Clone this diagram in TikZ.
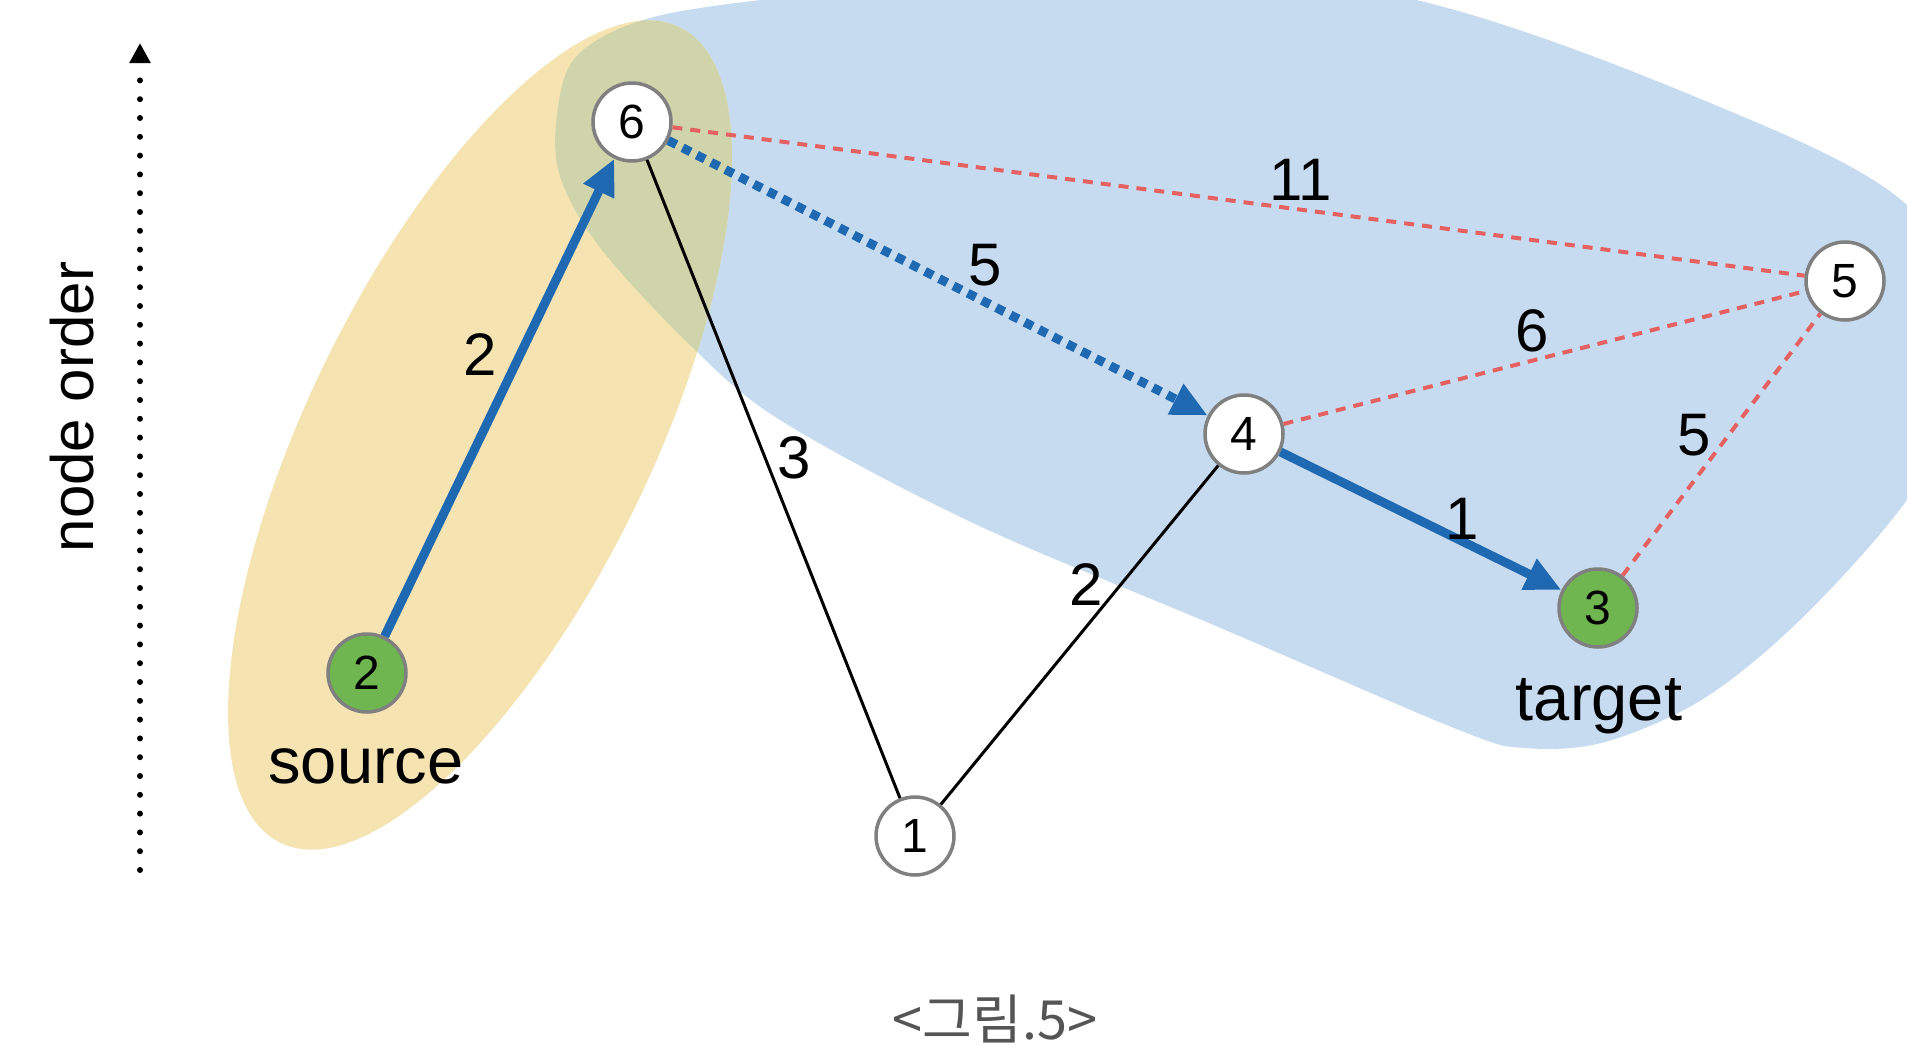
\documentclass[tikz,border=0pt]{standalone}
\usepackage{fontspec}
\setmainfont{Liberation Sans}
\newfontfamily\krfont{Noto Sans CJK KR}
\usetikzlibrary{arrows.meta}
\definecolor{bluefill}{RGB}{199,219,240}
\definecolor{yellowfill}{RGB}{245,228,178}
\definecolor{olivefill}{RGB}{208,212,170}
\definecolor{edgeblue}{RGB}{31,104,178}
\definecolor{edgered}{RGB}{229,96,96}
\definecolor{nodegray}{RGB}{128,128,128}
\definecolor{nodegreen}{RGB}{112,182,80}
\definecolor{captiongray}{RGB}{85,85,85}
\begin{document}
\begin{tikzpicture}[x=1pt,y=-1pt,
  vnode/.style={circle, draw=nodegray, line width=3.5pt, fill=white, minimum size=78pt, inner sep=0pt, font=\fontsize{48}{48}\selectfont},
  gnode/.style={vnode, fill=nodegreen},
  wlabel/.style={font=\fontsize{60}{60}\selectfont, inner sep=0pt},
  tlabel/.style={font=\fontsize{65}{65}\selectfont, inner sep=0pt},
  bluearrow/.style={draw=edgeblue, line width=9pt, -{Triangle[length=36pt,width=32pt]}},
  bluedots/.style={draw=edgeblue, line width=9pt, dash pattern=on 9pt off 7pt, -{Triangle[length=36pt,width=32pt]}},
  blackedge/.style={draw=black, line width=3pt},
  reddash/.style={draw=edgered, line width=4pt, dash pattern=on 10pt off 8pt},
]
\useasboundingbox (0,0) rectangle (1907,1050);
\fill[white] (0,0) rectangle (1907,1050);

\begin{scope}
\clip (0,0) rectangle (1907,1050);
% blue region
\fill[bluefill] plot[smooth cycle, tension=0.55] coordinates {
  (556,125) (575,58) (650,18) (800,-5) (1100,-40) (1416,0) (1703,100) (1907,205)
  (1990,360) (1907,500) (1800,620) (1703,699) (1605,742) (1526,748) (1459,730)
  (1216,626) (973,523) (780,420) (690,345) (602,250) (562,182)};
% yellow region
\fill[yellowfill, rotate around={63.9:(480,435)}] (480,435) ellipse [x radius=454, y radius=171];
% overlap
\begin{scope}
\clip[rotate around={63.9:(480,435)}] (480,435) ellipse [x radius=454, y radius=171];
\fill[olivefill] plot[smooth cycle, tension=0.55] coordinates {
  (556,125) (575,58) (650,18) (800,-5) (1100,-40) (1416,0) (1703,100) (1907,205)
  (1990,360) (1907,500) (1800,620) (1703,699) (1605,742) (1526,748) (1459,730)
  (1216,626) (973,523) (780,420) (690,345) (602,250) (562,182)};
\end{scope}
\end{scope}

% axis
\coordinate (ax0) at (140,870);
\coordinate (ax1) at (140,43);
\draw[line width=6pt, line cap=round, dash pattern=on 0pt off 18.8pt, -{Triangle[length=20pt,width=20pt]}] (ax0) -- (ax1);
\node[font=\fontsize{60}{60}\selectfont, inner sep=0pt, rotate=90] (ord) at (72,407) {node order};

% nodes
\node[vnode] (n6) at (632,122) {6};
\node[vnode] (n5) at (1845,281) {5};
\node[vnode] (n4) at (1244,434) {4};
\node[gnode] (n3) at (1598,608) {3};
\node[gnode] (n2) at (367,673) {2};
\node[vnode] (n1) at (915,836) {1};

% edges
\draw[reddash] (n6) -- (n5);
\draw[reddash] (n4) -- (n5);
\draw[reddash] (n3) -- (n5);
\draw[blackedge] (n6) -- (n1);
\draw[blackedge] (n1) -- (n4);
\draw[bluedots] (n6) -- (n4);
\draw[bluearrow] (n2) -- (n6);
\draw[bluearrow] (n4) -- (n3);

% weights
\node[wlabel] (w26) at (480,355) {2};
\node[wlabel] (w61) at (794,458) {3};
\node[wlabel] (w64) at (985,265) {5};
\node[wlabel] (w65) at (1301,180) {11};
\node[wlabel] (w45) at (1532,331) {6};
\node[wlabel] (w35) at (1694,435) {5};
\node[wlabel] (w43) at (1462,519) {1};
\node[wlabel] (w14) at (1086,585) {2};

% labels
\node[tlabel] (src) at (366,766) {source};
\node[tlabel] (tgt) at (1599,706) {target};
\node[font=\krfont\fontsize{54}{54}\selectfont, text=captiongray, inner sep=0pt] (cap) at (995,1019) {<그림.5>};
\end{tikzpicture}
\end{document}
